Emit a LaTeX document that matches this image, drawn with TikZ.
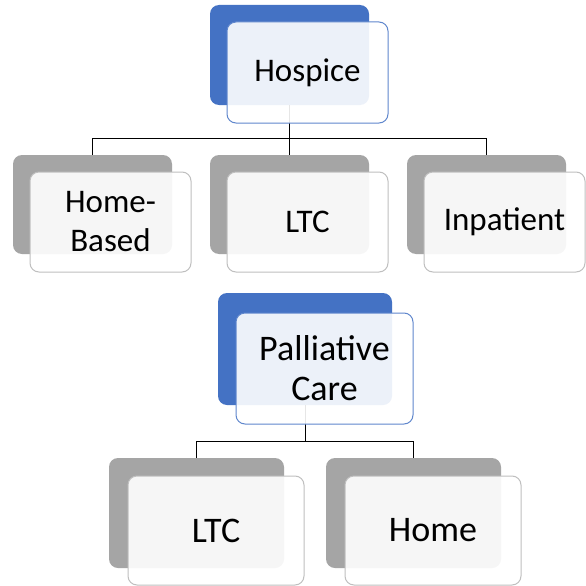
\documentclass[tikz,border=0pt]{standalone}
\usepackage{fontspec}
\setmainfont{Carlito}
\definecolor{accblue}{HTML}{4472C4}
\definecolor{accgray}{HTML}{A5A5A5}
\definecolor{linegray}{HTML}{BFBFBF}

\begin{document}
\begin{tikzpicture}[
  x=1pt, y=-1pt,
  back/.style={rectangle, rounded corners=9pt, inner sep=0pt},
  backblue/.style={back, fill=accblue},
  backgray/.style={back, fill=accgray},
  front/.style={rectangle, rounded corners=9pt, fill=white, fill opacity=0.9, text opacity=1,
    line width=1pt, align=center, inner sep=0pt, font=\fontsize{33}{39}\selectfont},
  frontblue/.style={front, draw=accblue!85},
  frontgray/.style={front, draw=linegray},
  bigtext/.style={font=\fontsize{36}{40}\selectfont},
  conn/.style={draw=black, line width=1pt},
]
\useasboundingbox[fill=white] (0,0) rectangle (586,586);

% === Hospice tree ===
\node[backblue, minimum width=159, minimum height=100] (hospiceB) at (289.5,55) {};
\node[backgray, minimum width=159, minimum height=99] (homebasedB) at (92.5,204.5) {};
\node[backgray, minimum width=159, minimum height=99] (ltcB) at (289.5,204.5) {};
\node[backgray, minimum width=159, minimum height=99] (inpatientB) at (486.5,204.5) {};

\draw[conn] (hospiceB.south) -- ++(0,33) -| (homebasedB.north);
\draw[conn] (hospiceB.south) -- ++(0,33) -| (ltcB.north);
\draw[conn] (hospiceB.south) -- ++(0,33) -| (inpatientB.north);

\node[frontblue, minimum width=161, minimum height=101] (hospice) at (307.5,72.5) {Hospice};
\node[frontgray, minimum width=161, minimum height=100] (homebased) at (110.5,222) {Home-\\Based};
\node[frontgray, minimum width=161, minimum height=100] (ltc) at (307.5,222) {LTC};
\node[frontgray, minimum width=161, minimum height=100] (inpatient) at (504.5,222) {Inpatient};

% === Palliative care tree ===
\node[backblue, minimum width=174, minimum height=112] (palliativeB) at (305,349) {};
\node[backgray, minimum width=175, minimum height=110] (ltcpcB) at (196.5,513) {};
\node[backgray, minimum width=175, minimum height=110] (homeB) at (413.5,513) {};

\draw[conn] (palliativeB.south) -- ++(0,36) -| (ltcpcB.north);
\draw[conn] (palliativeB.south) -- ++(0,36) -| (homeB.north);

\node[frontblue, bigtext, minimum width=177, minimum height=111] (palliative) at (324.5,368.5) {Palliative\\Care};
\node[frontgray, bigtext, minimum width=176, minimum height=109] (ltcpc) at (216,530.5) {LTC};
\node[frontgray, bigtext, minimum width=176, minimum height=109] (home) at (433,530.5) {Home};

\end{tikzpicture}
\end{document}
